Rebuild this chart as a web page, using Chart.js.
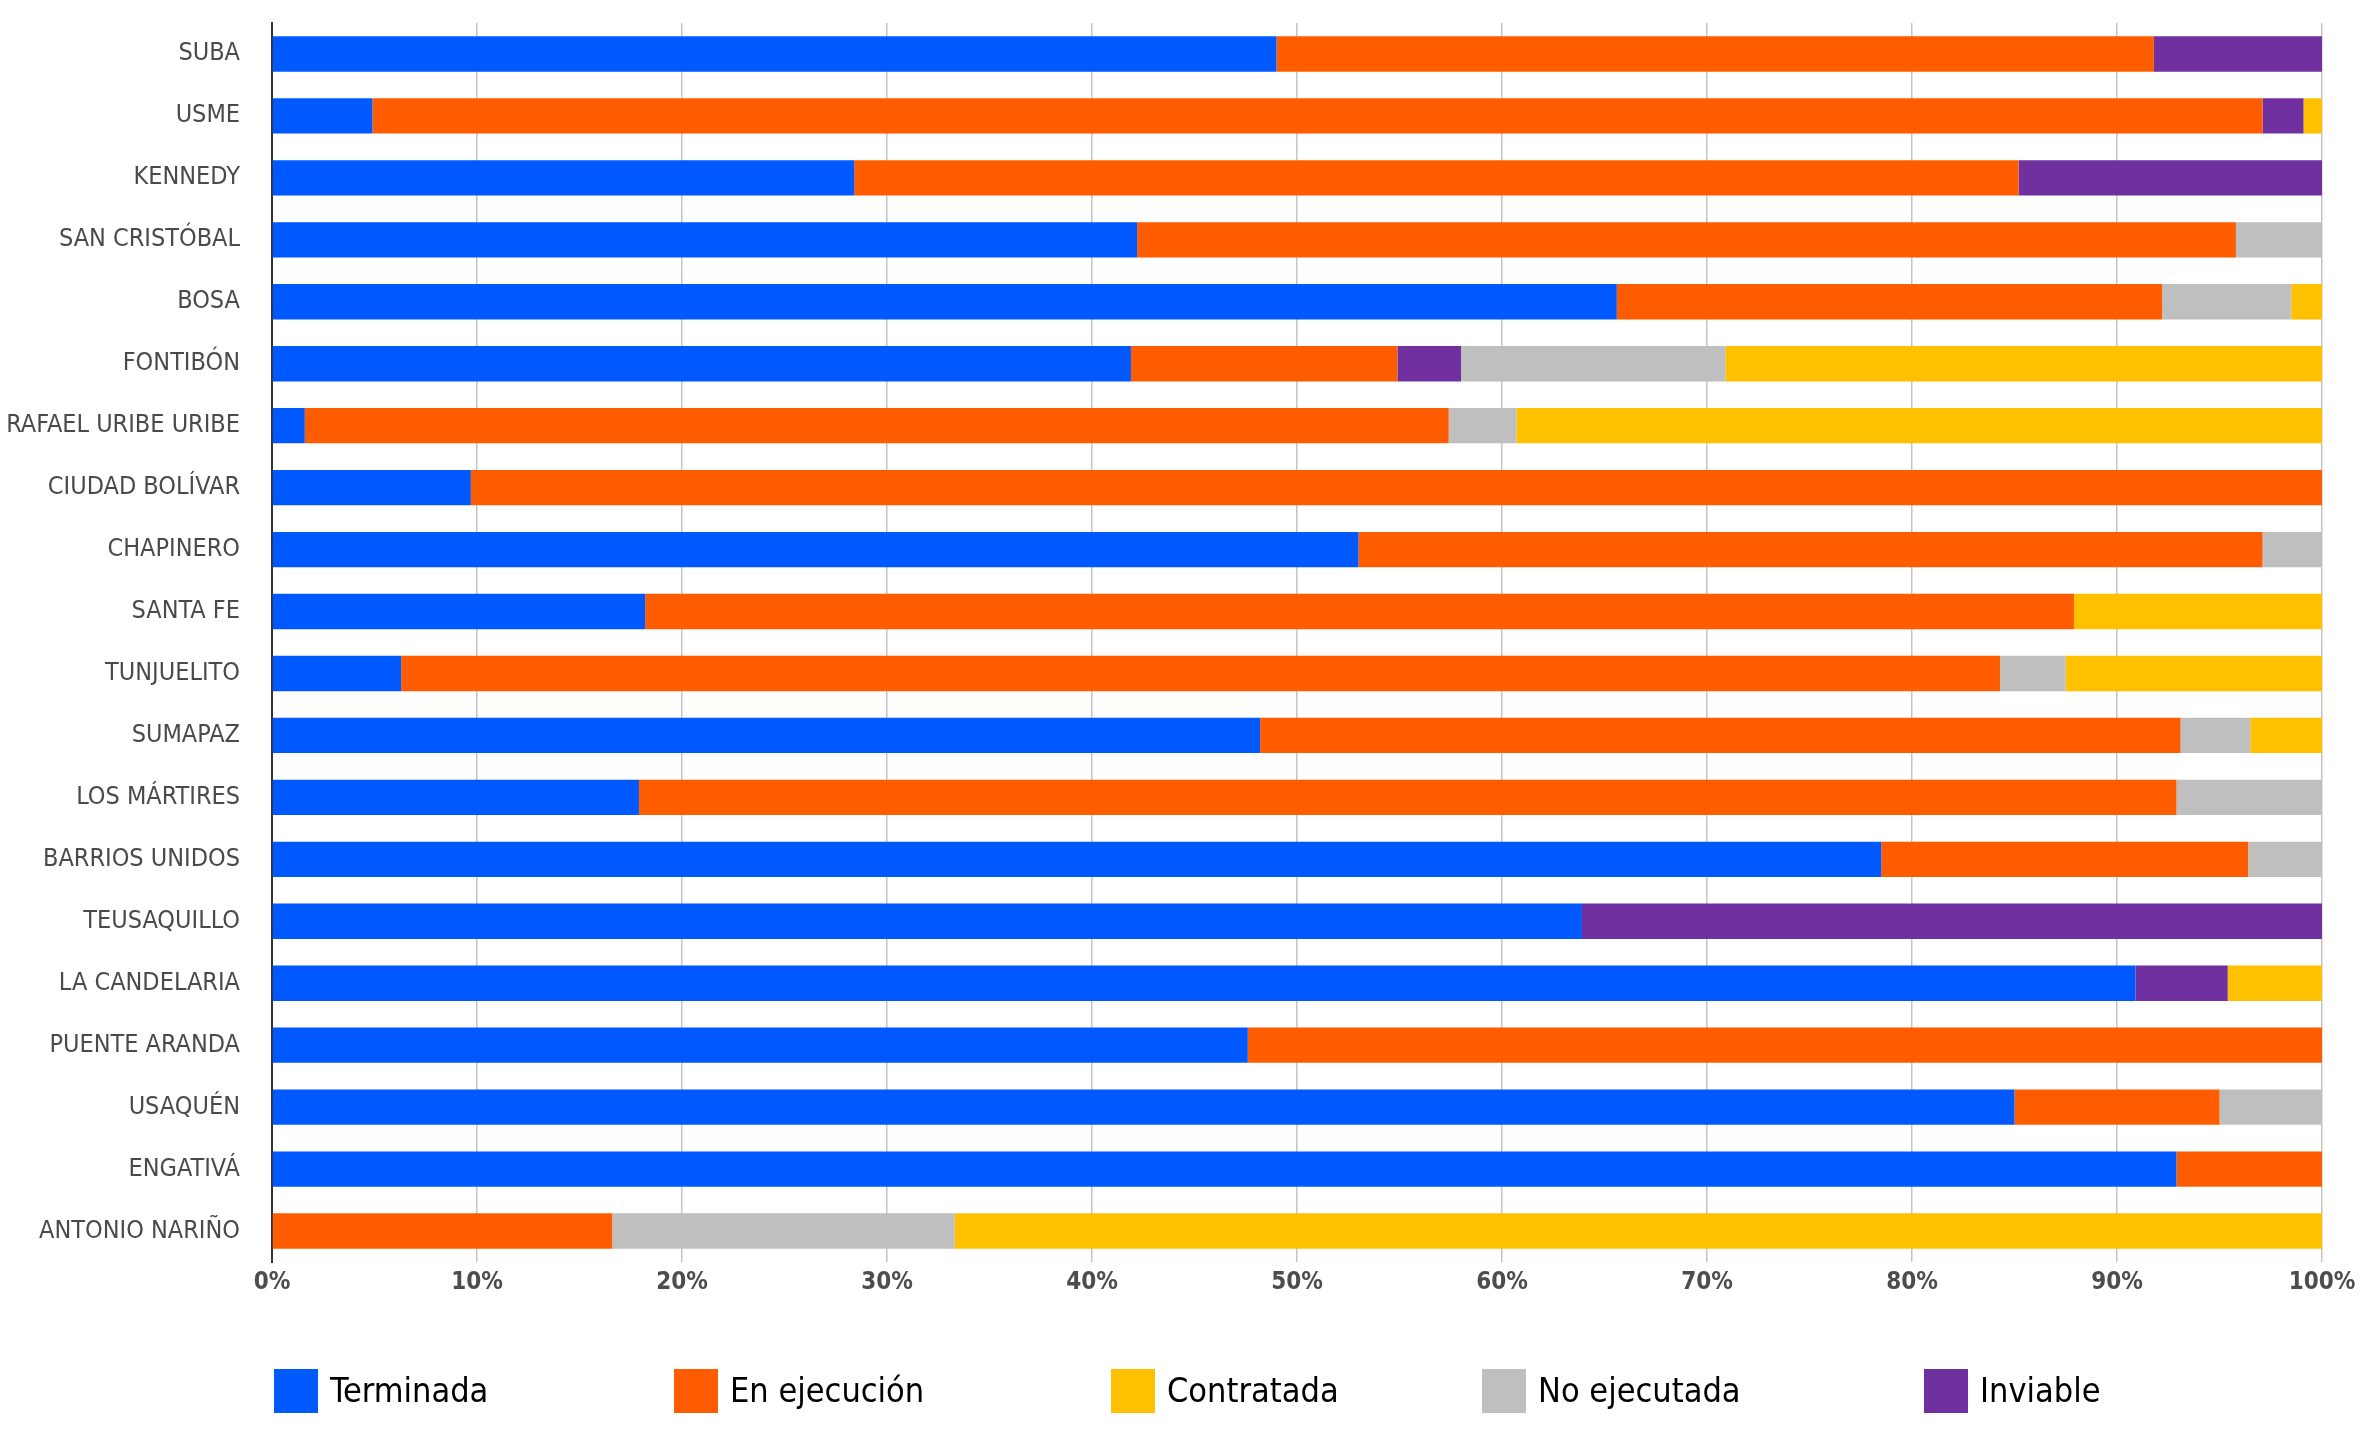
<!DOCTYPE html>
<html>
<head>
<meta charset="utf-8">
<script src="https://cdn.jsdelivr.net/npm/chart.js@4.4.0/dist/chart.umd.min.js"></script>
<style>
  html, body { margin: 0; padding: 0; background: #fff; }
  #wrap { width: 2363px; height: 1431px; }
</style>
</head>
<body>
<div id="wrap"><canvas id="chart" width="2363" height="1431"></canvas></div>
<script>
const localidades = ['SUBA', 'USME', 'KENNEDY', 'SAN CRISTÓBAL', 'BOSA', 'FONTIBÓN', 'RAFAEL URIBE URIBE',
  'CIUDAD BOLÍVAR', 'CHAPINERO', 'SANTA FE', 'TUNJUELITO', 'SUMAPAZ', 'LOS MÁRTIRES', 'BARRIOS UNIDOS',
  'TEUSAQUILLO', 'LA CANDELARIA', 'PUENTE ARANDA', 'USAQUÉN', 'ENGATIVÁ', 'ANTONIO NARIÑO'];

// percentages, one value per localidad
const terminada   = [49.0, 4.9, 28.4, 42.2, 65.6, 41.9, 1.6, 9.7, 53.0, 18.2, 6.3, 48.2, 17.9, 78.5, 63.9, 90.9, 47.6, 85.0, 92.9, 0];
const enEjecucion = [42.8, 92.2, 56.8, 53.6, 26.6, 13.0, 55.8, 90.3, 44.1, 69.7, 78.0, 44.9, 75.0, 17.9, 0, 0, 52.4, 10.0, 7.1, 16.6];
const inviable    = [8.2, 2.0, 14.8, 0, 0, 3.1, 0, 0, 0, 0, 0, 0, 0, 0, 36.1, 4.5, 0, 0, 0, 0];
const noEjecutada = [0, 0, 0, 4.2, 6.3, 12.9, 3.3, 0, 2.9, 0, 3.2, 3.4, 7.1, 3.6, 0, 0, 0, 5.0, 0, 16.7];
const contratada  = [0, 0.9, 0, 0, 1.5, 29.1, 39.3, 0, 0, 12.1, 12.5, 3.5, 0, 0, 0, 4.6, 0, 0, 0, 66.7];

const xTicks = [0, 10, 20, 30, 40, 50, 60, 70, 80, 90, 100];
const legendOrder = ['Terminada', 'En ejecución', 'Contratada', 'No ejecutada', 'Inviable'];

const condensed = '"Liberation Sans Narrow", "DejaVu Sans Condensed", "Roboto", sans-serif';

// legend under the plot; the original puts its items in loose columns
const legendCols = [274, 674, 1111, 1482, 1924];
const bottomLegend = {
  id: 'bottomLegend',
  afterDraw(chart) {
    const ctx = chart.ctx;
    const box = 44, textGap = 12, y = 1369;
    ctx.save();
    ctx.font = '34px ' + condensed;
    ctx.textBaseline = 'middle';
    legendOrder.forEach((name, i) => {
      const d = chart.data.datasets.find(ds => ds.label === name);
      const x = legendCols[i];
      ctx.fillStyle = d.backgroundColor;
      ctx.fillRect(x, y, box, box);
      ctx.fillStyle = '#000';
      ctx.fillText(d.label, x + box + textGap, y + box / 2 + 2);
    });
    ctx.restore();
  }
};

new Chart(document.getElementById('chart').getContext('2d'), {
  type: 'bar',
  data: {
    labels: localidades,
    datasets: [
      { label: 'Terminada', data: terminada, backgroundColor: '#0059FF' },
      { label: 'En ejecución', data: enEjecucion, backgroundColor: '#FF5C00' },
      { label: 'Inviable', data: inviable, backgroundColor: '#7030A0' },
      { label: 'No ejecutada', data: noEjecutada, backgroundColor: '#BFBFBF' },
      { label: 'Contratada', data: contratada, backgroundColor: '#FFC000' }
    ]
  },
  options: {
    indexAxis: 'y',
    responsive: false,
    animation: false,
    devicePixelRatio: 1,
    layout: { padding: { top: 23, right: 41, left: 0, bottom: 0 } },
    datasets: { bar: { barPercentage: 1, categoryPercentage: 0.57, borderWidth: 0 } },
    plugins: {
      legend: { display: false },
      tooltip: { enabled: false }
    },
    scales: {
      x: {
        stacked: true,
        min: 0,
        max: 100,
        afterBuildTicks: s => { s.ticks = xTicks.map(v => ({ value: v })); },
        afterFit: s => { s.height = 169; s.paddingLeft = 0; s.paddingRight = 0; },
        grid: { color: '#C4C4C4', lineWidth: 1.5, drawTicks: false },
        border: { display: false },
        ticks: {
          padding: 6,
          color: '#4D4D4D',
          font: { family: condensed, size: 24, weight: 'bold' },
          callback: v => v + '%'
        }
      },
      y: {
        stacked: true,
        afterFit: s => { s.width = 272; s.paddingTop = 0; s.paddingBottom = 0; },
        grid: { display: false },
        border: { display: true, color: '#333', width: 2 },
        ticks: {
          padding: 24,
          color: '#4A4A4A',
          font: { family: condensed, size: 25 }
        }
      }
    }
  },
  plugins: [bottomLegend]
});
</script>
</body>
</html>
